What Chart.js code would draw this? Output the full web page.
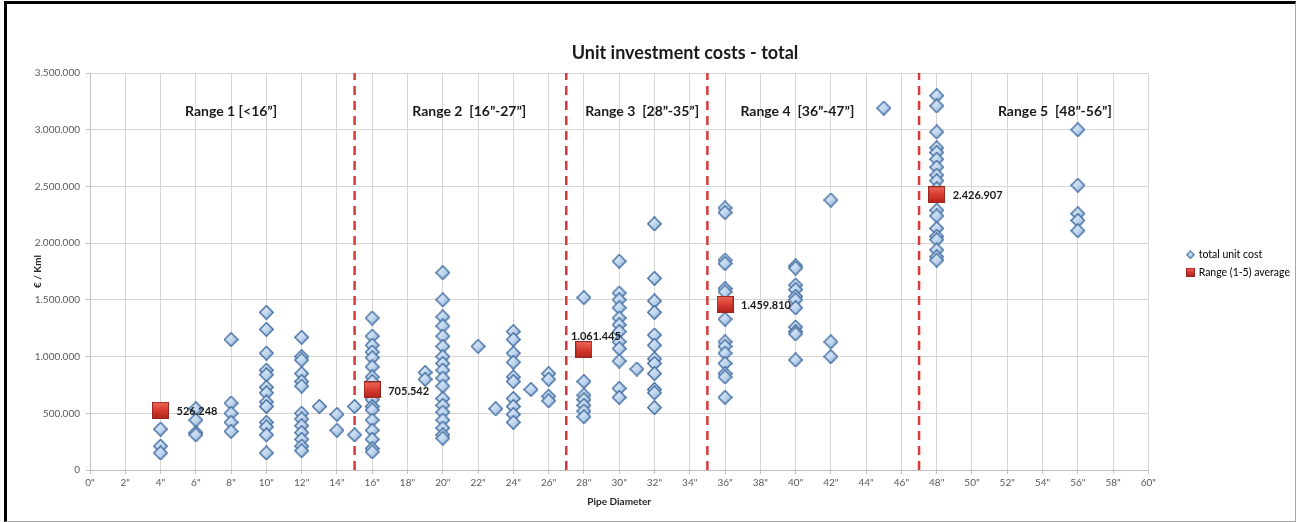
<!DOCTYPE html>
<html><head><meta charset="utf-8">
<script src="https://cdn.jsdelivr.net/npm/chart.js@4.4.1/dist/chart.umd.min.js"></script>
<style>
html,body{margin:0;padding:0;background:#fff;width:1299px;height:522px;overflow:hidden;}
#frame{position:absolute;left:4px;top:1px;width:1288px;height:517px;border-left:3px solid #000;border-top:3px solid #000;border-right:1px solid #a6a6a6;border-bottom:1px solid #a6a6a6;}
#c{position:absolute;left:0;top:0;}
</style></head><body>
<div id="frame"></div>
<canvas id="c" width="1299" height="522"></canvas>
<script>
// ---- data ----
const cost4  = [360000, 210000, 150000];
const cost6  = [540000, 440000, 330000, 310000];
const cost8  = [1150000, 590000, 500000, 420000, 340000];
const cost10 = [1390000, 1240000, 1030000, 880000, 840000, 730000, 680000, 600000, 560000, 420000, 380000, 310000, 150000];
const cost12 = [1170000, 1000000, 970000, 850000, 780000, 740000, 500000, 450000, 390000, 330000, 270000, 210000, 170000];
const cost13 = [560000];
const cost14 = [490000, 350000];
const cost15 = [560000, 310000];
const cost16 = [1340000, 1180000, 1100000, 1040000, 990000, 910000, 820000, 780000, 620000, 560000, 530000, 440000, 350000, 270000, 190000, 160000];
const cost19 = [860000, 800000];
const cost20 = [1740000, 1500000, 1350000, 1270000, 1180000, 1090000, 1000000, 940000, 880000, 810000, 740000, 630000, 570000, 510000, 440000, 370000, 310000, 280000];
const cost22 = [1090000];
const cost23 = [540000];
const cost24 = [1220000, 1150000, 1030000, 950000, 820000, 780000, 630000, 560000, 490000, 420000];
const cost25 = [710000];
const cost26 = [850000, 800000, 650000, 610000];
const cost28 = [1520000, 780000, 660000, 620000, 570000, 520000, 470000];
const cost30 = [1840000, 1560000, 1500000, 1430000, 1340000, 1280000, 1220000, 1130000, 1070000, 960000, 720000, 640000];
const cost31 = [890000];
const cost32 = [2170000, 1690000, 1490000, 1390000, 1190000, 1100000, 980000, 940000, 850000, 710000, 680000, 550000];
const cost36 = [2310000, 2270000, 1850000, 1820000, 1600000, 1570000, 1330000, 1130000, 1090000, 1030000, 940000, 850000, 820000, 640000];
const cost40 = [1800000, 1780000, 1630000, 1590000, 1530000, 1500000, 1430000, 1260000, 1220000, 1200000, 970000];
const cost42 = [2380000, 1130000, 1000000];
const cost45 = [3190000];
const cost48 = [3300000, 3210000, 2980000, 2840000, 2800000, 2740000, 2670000, 2600000, 2550000, 2480000, 2290000, 2240000, 2130000, 2060000, 2030000, 1940000, 1880000, 1850000];
const cost56 = [3000000, 2510000, 2260000, 2200000, 2110000];

const diameters = [4, 6, 8, 10, 12, 13, 14, 15, 16, 19, 20, 22, 23, 24, 25, 26, 28, 30, 31, 32, 36, 40, 42, 45, 48, 56];
const costLists = [cost4, cost6, cost8, cost10, cost12, cost13, cost14, cost15, cost16, cost19, cost20, cost22, cost23, cost24, cost25, cost26, cost28, cost30, cost31, cost32, cost36, cost40, cost42, cost45, cost48, cost56];

const avgDiameters = [4, 16, 28, 36, 48];
const avgValues = [526248, 705542, 1061445, 1459810, 2426907];

const rangeBoundaries = [15, 27, 35, 47];
const rangeNames = ['Range 1 [<16\u201D]', 'Range 2  [16\u201D-27\u201D]', 'Range 3  [28\u201D-35\u201D]', 'Range 4  [36\u201D-47\u201D]', 'Range 5  [48\u201D-56\u201D]'];

const chartTitle = 'Unit investment costs - total';
const seriesNames = ['total unit cost', 'Range (1-5) average'];
const xTitle = 'Pipe Diameter';
const yTitle = '\u20AC / Kml';

// ---- helpers ----
const FONT = 'Lato, "Open Sans", sans-serif';
const dotted = v => String(Math.round(v)).replace(/\B(?=(\d{3})+(?!\d))/g, '.');

function diamondImg(size) {
  const c = document.createElement('canvas');
  c.width = size; c.height = size;
  const g = c.getContext('2d');
  const h = size / 2, m = 0.8;
  g.beginPath();
  g.moveTo(h, m); g.lineTo(size - m, h); g.lineTo(h, size - m); g.lineTo(m, h); g.closePath();
  const gr = g.createLinearGradient(0, 0, size, size);
  gr.addColorStop(0, '#eef5fc'); gr.addColorStop(0.5, '#c3d9f0'); gr.addColorStop(1, '#7fa6d2');
  g.fillStyle = gr; g.fill();
  g.lineWidth = size > 10 ? 1.6 : 1.2; g.strokeStyle = '#4a72a4'; g.stroke();
  return c;
}
function squareImg(size) {
  const c = document.createElement('canvas');
  c.width = size; c.height = size;
  const g = c.getContext('2d');
  const gr = g.createLinearGradient(0, 0, 0, size);
  gr.addColorStop(0, '#ee6a5c'); gr.addColorStop(0.5, '#d83b30'); gr.addColorStop(1, '#ad231c');
  g.fillStyle = gr; g.fillRect(0.5, 0.5, size - 1, size - 1);
  g.strokeStyle = '#98261f'; g.lineWidth = 1; g.strokeRect(0.5, 0.5, size - 1, size - 1);
  return c;
}
const diamondBig = diamondImg(15), diamondSmall = diamondImg(9);
const squareBig = squareImg(17), squareSmall = squareImg(9);

// ---- datasets ----
const scatterPoints = [];
diameters.forEach((d, i) => costLists[i].forEach(v => scatterPoints.push({x: d, y: v})));
const avgPoints = avgDiameters.map((d, i) => ({x: d, y: avgValues[i]}));

const datasets = [
  {label: seriesNames[0], data: scatterPoints, pointStyle: diamondBig, order: 2},
  {label: seriesNames[1], data: avgPoints, pointStyle: squareBig, order: 1}
];
rangeBoundaries.forEach(b => datasets.push({
  type: 'line', label: '_boundary', data: [{x: b, y: 0}, {x: b, y: 3500000}],
  borderColor: '#d63a3a', borderWidth: 2.5, borderDash: [9, 6], pointRadius: 0, order: 3, fill: false
}));

const decor = {
  id: 'decor',
  afterLayout(chart) {
    const lg = chart.legend;
    if (lg) { lg.left += 32; lg.right += 32; lg.top -= 8; lg.bottom -= 8; }
  },
  afterDatasetsDraw(chart) {
    const ctx = chart.ctx, xs = chart.scales.x, ys = chart.scales.y;
    ctx.save();
    // range labels
    ctx.font = 'bold 14px ' + FONT; ctx.fillStyle = '#1a1a1a';
    ctx.textAlign = 'center'; ctx.textBaseline = 'middle';
    const centers = [8, 21.5, 31.3, 40.1, 54.7];
    rangeNames.forEach((t, i) => ctx.fillText(t, xs.getPixelForValue(centers[i]), ys.top + 38));
    // average data labels
    ctx.font = 'bold 11px ' + FONT;
    const meta = chart.getDatasetMeta(1);
    meta.data.forEach((p, i) => {
      const txt = dotted(avgValues[i]);
      if (i === 2) { ctx.textAlign = 'center'; ctx.fillText(txt, p.x + 12, p.y - 13); }
      else { ctx.textAlign = 'left'; ctx.fillText(txt, p.x + 16, p.y + 1); }
    });
    // title
    ctx.font = 'bold 18px ' + FONT; ctx.textAlign = 'center'; ctx.fillStyle = '#1a1a1a';
    ctx.fillText(chartTitle, 685, 53);
    ctx.restore();
  }
};

new Chart(document.getElementById('c'), {
  type: 'scatter',
  data: {datasets},
  options: {
    responsive: false, animation: false, devicePixelRatio: 1,
    layout: {padding: {left: 25, right: 31, top: 73, bottom: 7}},
    plugins: {
      tooltip: {enabled: false},
      title: {display: false},
      legend: {
        position: 'right', fullSize: false,
        labels: {
          usePointStyle: true, pointStyleWidth: 6, padding: 7, color: '#262626',
          font: {family: FONT, size: 10.5},
          generateLabels: () => [
            {text: seriesNames[0], pointStyle: diamondSmall, fillStyle: '#c3d9f0', strokeStyle: '#4a72a4', lineWidth: 0, datasetIndex: 0, hidden: false},
            {text: seriesNames[1], pointStyle: squareSmall, fillStyle: '#d83b30', strokeStyle: '#98261f', lineWidth: 0, datasetIndex: 1, hidden: false}
          ]
        }
      }
    },
    scales: {
      x: {
        type: 'linear', min: 0, max: 60,
        afterFit: s => { s.height = 45; },
        ticks: {stepSize: 2, padding: 3, color: '#595959', font: {family: FONT, size: 10}, callback: v => v + '"', maxRotation: 0, autoSkip: false},
        grid: {color: '#d6d6d6', tickLength: 4, tickColor: '#bfbfbf'},
        border: {color: '#bfbfbf'},
        title: {display: true, text: xTitle, color: '#262626', font: {family: FONT, size: 10, weight: 'bold'}, padding: {top: 0, bottom: 7}}
      },
      y: {
        min: 0, max: 3500000,
        afterFit: s => { s.width = 65; },
        ticks: {stepSize: 500000, padding: 6, color: '#595959', font: {family: FONT, size: 10}, callback: v => dotted(v)},
        grid: {color: '#d6d6d6', tickLength: 4, tickColor: '#bfbfbf'},
        border: {color: '#bfbfbf'},
        title: {display: true, text: yTitle, color: '#262626', font: {family: FONT, size: 10, weight: 'bold'}, padding: {top: 7, bottom: 0}}
      }
    }
  },
  plugins: [decor]
});
</script>
</body></html>
